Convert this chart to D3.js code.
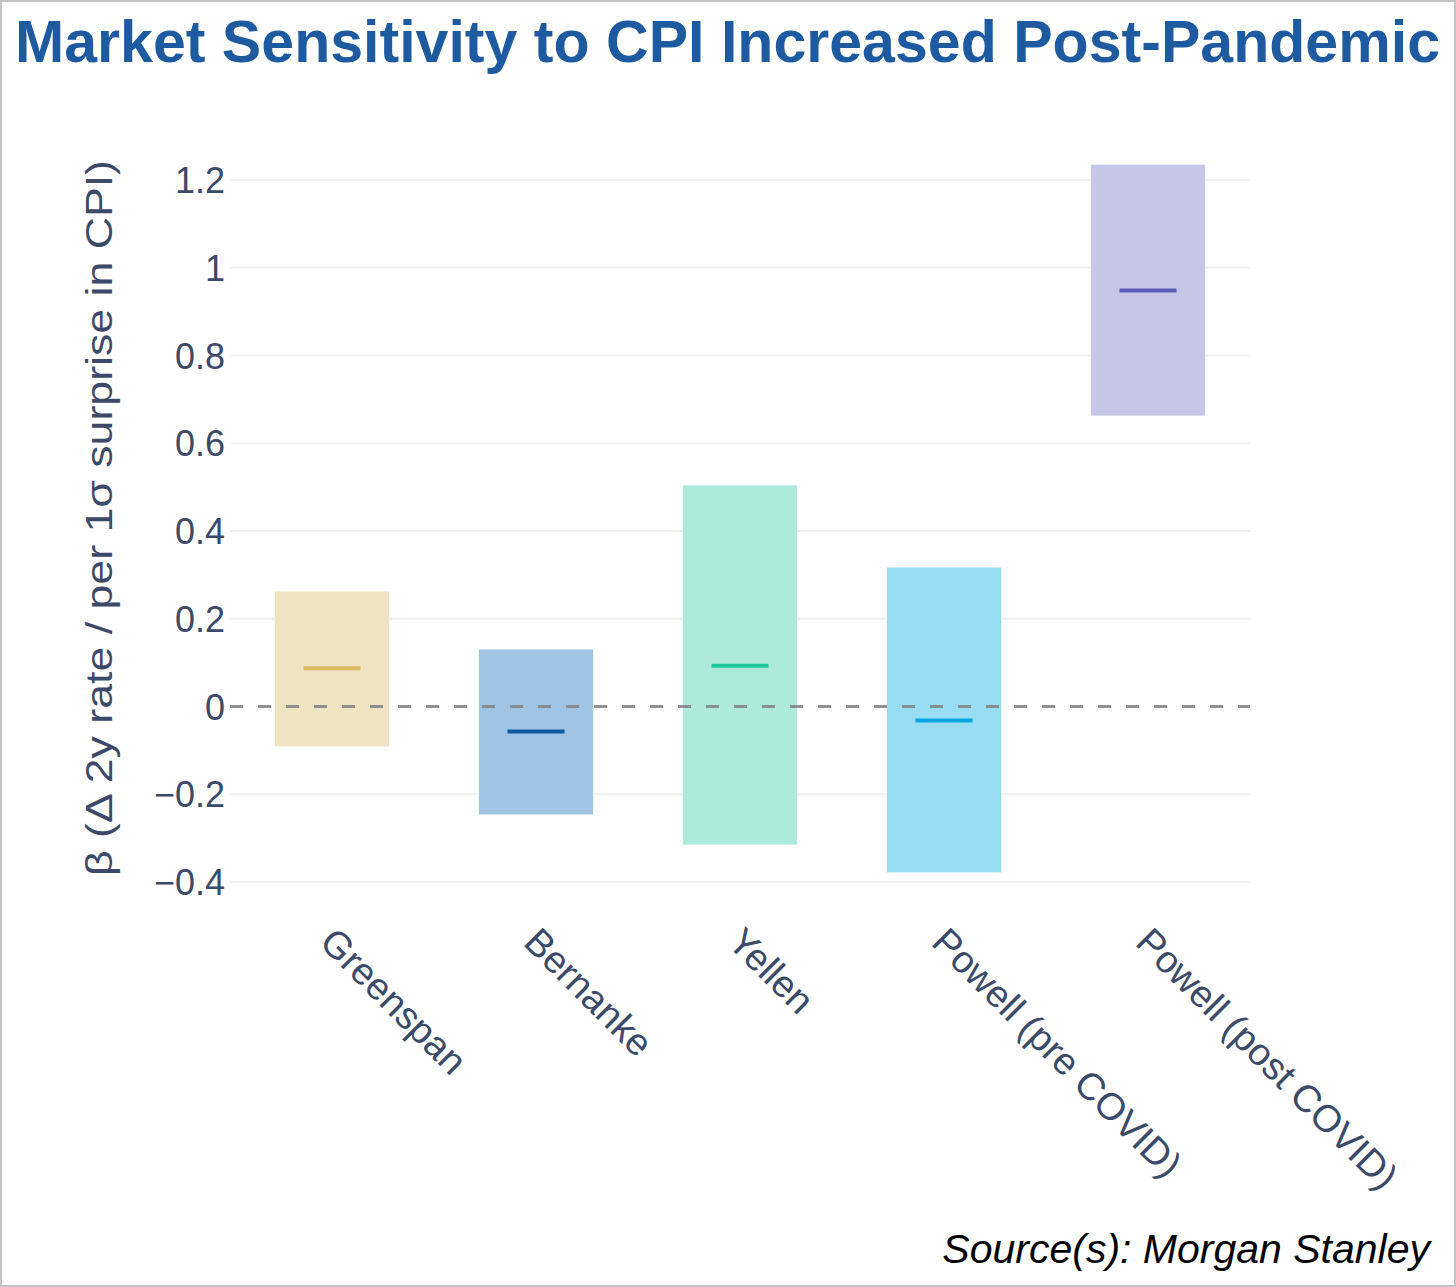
<!DOCTYPE html>
<html>
<head>
<meta charset="utf-8">
<script src="https://cdn.jsdelivr.net/npm/d3@7"></script>
<style>
  html, body { margin: 0; padding: 0; background: #fff; }
  svg { display: block; }
</style>
</head>
<body>
<svg id="chart" width="1456" height="1287"></svg>
<script>
// ---- data ----
const categories = ["Greenspan", "Bernanke", "Yellen", "Powell (pre COVID)", "Powell (post COVID)"];
const lowValues = [-0.091, -0.246, -0.315, -0.378, 0.663];
const highValues = [0.262, 0.130, 0.504, 0.317, 1.235];
const medianValues = [0.087, -0.057, 0.093, -0.032, 0.948];
const boxColors = ["#efe4c2", "#9fc4e4", "#aeeadc", "#97ddf3", "#c6c7e6"];
const medianColors = ["#dcb95f", "#0b5c9e", "#1fc79e", "#04a6dd", "#5b5cb9"];
const yTicks = [-0.4, -0.2, 0, 0.2, 0.4, 0.6, 0.8, 1, 1.2];
const titleText = "Market Sensitivity to CPI Increased Post-Pandemic";
const yLabel = "β (Δ 2y rate / per 1σ surprise in CPI)";
const sourceText = "Source(s): Morgan Stanley";

// ---- layout ----
const svg = d3.select("#chart");
const W = 1456, H = 1287;
const plot = { left: 230, right: 1250, top: 180, bottom: 882 };

const x = d3.scaleBand().domain(categories).range([plot.left, plot.right]).paddingInner(0.44).paddingOuter(0.22);
const y = d3.scaleLinear().domain([-0.4, 1.2]).range([plot.bottom, plot.top]);

// border
svg.append("rect").attr("x", 1).attr("y", 1).attr("width", W - 2).attr("height", H - 2)
  .attr("fill", "#fff").attr("stroke", "#c4c4c4").attr("stroke-width", 2);

// title
svg.append("text").attr("x", 15).attr("y", 62)
  .attr("font-family", "Liberation Sans, Arial, sans-serif").attr("font-weight", "bold")
  .attr("font-size", 59).attr("fill", "#1e5a9f")
  .attr("textLength", 1425).attr("lengthAdjust", "spacingAndGlyphs")
  .text(titleText);

// gridlines
svg.append("g").selectAll("line").data(yTicks.filter(d => d !== 0)).join("line")
  .attr("x1", plot.left).attr("x2", plot.right)
  .attr("y1", d => y(d)).attr("y2", d => y(d))
  .attr("stroke", "#eef0f4").attr("stroke-width", 2);

// y axis tick labels
const yAxis = d3.axisLeft(y).tickValues(yTicks).tickSize(0).tickPadding(5)
  .tickFormat(d => (d < 0 ? "\u2212" : "") + d3.format("~g")(Math.abs(d)));
const gy = svg.append("g").attr("transform", `translate(${plot.left},0)`).call(yAxis);
gy.select(".domain").remove();
gy.selectAll("text").attr("font-family", "Liberation Sans, Arial, sans-serif")
  .attr("font-size", 36).attr("fill", "#3b4a68").attr("dy", "0.35em");

// y label
svg.append("text")
  .attr("transform", `translate(112, ${(160 + 876) / 2}) rotate(-90)`)
  .attr("text-anchor", "middle")
  .attr("font-family", "Liberation Sans, Arial, sans-serif")
  .attr("font-size", 36).attr("fill", "#3b4a68")
  .attr("textLength", 716).attr("lengthAdjust", "spacingAndGlyphs")
  .text(yLabel);

// boxes
svg.append("g").selectAll("rect").data(categories).join("rect")
  .attr("x", d => x(d)).attr("width", x.bandwidth())
  .attr("y", (d, i) => y(highValues[i]))
  .attr("height", (d, i) => y(lowValues[i]) - y(highValues[i]))
  .attr("fill", (d, i) => boxColors[i]);

// zero dashed line
svg.append("line").attr("x1", plot.left).attr("x2", plot.right)
  .attr("y1", y(0)).attr("y2", y(0))
  .attr("stroke", "#858585").attr("stroke-opacity", 0.9).attr("stroke-width", 3)
  .attr("stroke-dasharray", "13,15");

// medians
svg.append("g").selectAll("line").data(categories).join("line")
  .attr("x1", d => x(d) + x.bandwidth() * 0.25).attr("x2", d => x(d) + x.bandwidth() * 0.75)
  .attr("y1", (d, i) => y(medianValues[i])).attr("y2", (d, i) => y(medianValues[i]))
  .attr("stroke", (d, i) => medianColors[i]).attr("stroke-width", 4);

// x labels rotated 45
const xAxis = d3.axisBottom(x).tickSize(0).tickPadding(0);
const gx = svg.append("g").attr("transform", `translate(0,${plot.bottom})`).call(xAxis);
gx.select(".domain").remove();
gx.selectAll(".tick text")
  .attr("font-family", "Liberation Sans, Arial, sans-serif")
  .attr("font-size", 38).attr("fill", "#3b4a68")
  .attr("text-anchor", "start")
  .attr("y", 0).attr("dy", 0)
  .attr("transform", "translate(-14,62) rotate(45)");

// source
svg.append("text").attr("x", 1430).attr("y", 1263)
  .attr("text-anchor", "end")
  .attr("font-family", "Liberation Sans, Arial, sans-serif")
  .attr("font-style", "italic").attr("font-size", 41).attr("fill", "#000")
  .text(sourceText);
</script>
</body>
</html>
